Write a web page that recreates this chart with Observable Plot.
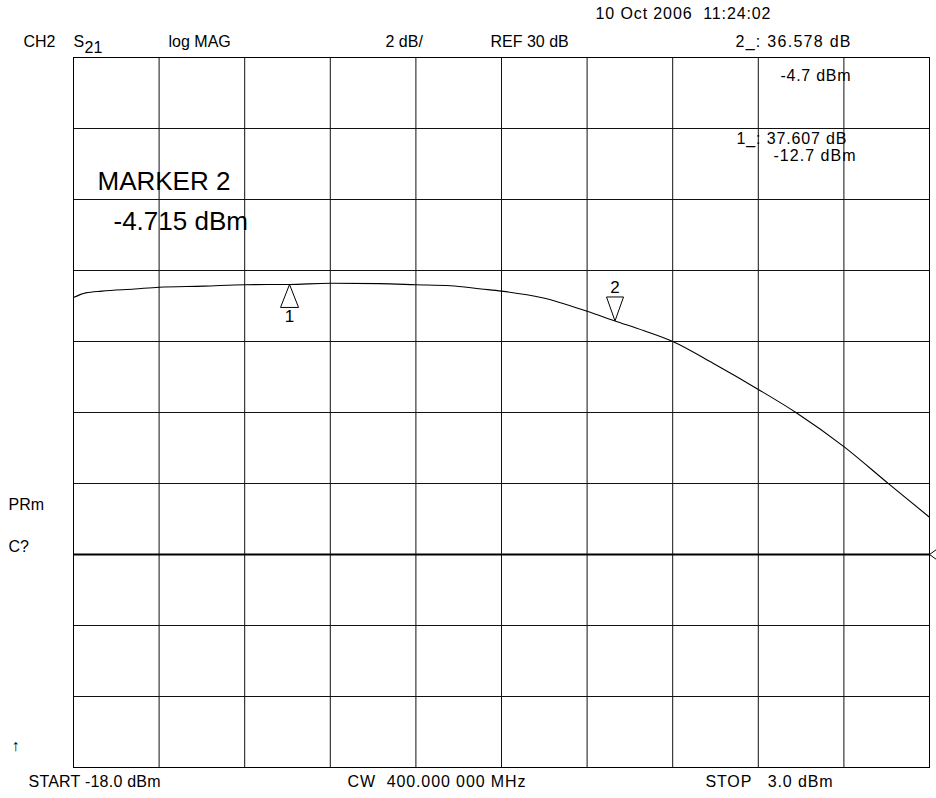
<!DOCTYPE html>
<html>
<head>
<meta charset="utf-8">
<script src="https://cdn.jsdelivr.net/npm/d3@7"></script>
<script src="https://cdn.jsdelivr.net/npm/@observablehq/plot@0.6"></script>
<style>
  html, body { margin: 0; padding: 0; background: #fff; }
  #chart svg { display: block; }
</style>
</head>
<body>
<div id="chart"></div>
<script>
// Sweep (power, dBm) and measured S21 log magnitude (dB)
const powerDbm = [-18.0, -17.7, -17.3, -16.5, -15.9, -14.8, -13.8, -12.7, -11.7, -10.5, -9.6, -8.75, -8.0, -7.5, -6.5, -5.4, -4.715, -4.0, -3.3, -2.3, -1.2, -0.25, 0.9, 2.0, 3.0];
const s21Db    = [37.24, 37.37, 37.42, 37.48, 37.53, 37.56, 37.60, 37.607, 37.64, 37.63, 37.60, 37.57, 37.48, 37.42, 37.23, 36.85, 36.578, 36.30, 36.00, 35.38, 34.65, 33.98, 33.04, 31.99, 31.05];

// Grid divisions
const xTicks = [-18, -15.9, -13.8, -11.7, -9.6, -7.5, -5.4, -3.3, -1.2, 0.9, 3];
const yTicks = [24, 26, 28, 30, 32, 34, 36, 38, 40, 42, 44];
const refLevel = [30];

// Markers
const marker1 = [{x: -12.7, y: 37.607, label: "1"}];
const marker2 = [{x: -4.715, y: 36.578, label: "2"}];

const trace = powerDbm.map((p, i) => ({p, v: s21Db[i]}));

const triUp = {draw(ctx) { ctx.moveTo(0, 0); ctx.lineTo(-9, 23); ctx.lineTo(9, 23); ctx.closePath(); }};
const triDown = {draw(ctx) { ctx.moveTo(0, 0); ctx.lineTo(-8.5, -24); ctx.lineTo(8.5, -24); ctx.closePath(); }};
const refArrow = {draw(ctx) { ctx.moveTo(7, -5); ctx.lineTo(0, 0); ctx.lineTo(7, 5); }};

const F = 16;
const widths = new Map();
function label(text, X, B, size = F, w = null) {
  // X: left edge, B: baseline, relative to the frame's top-left (73, 57)
  if (w) widths.set(text, w);
  return Plot.text([text], {frameAnchor: "top-left", text: d => d, dx: X - 73, dy: B - 57,
    textAnchor: "start", lineAnchor: "bottom", fontSize: size, fill: "#000"});
}

const chart = Plot.plot({
  width: 936,
  height: 798,
  marginLeft: 73,
  marginRight: 7,
  marginTop: 57,
  marginBottom: 31,
  x: {domain: [-18, 3], axis: null},
  y: {domain: [24, 44], axis: null},
  style: {fontFamily: "'Liberation Sans', Arial, sans-serif", background: "#fff", overflow: "visible"},
  marks: [
    Plot.ruleX(xTicks, {stroke: "#111", strokeWidth: 1}),
    Plot.ruleY(yTicks, {stroke: "#111", strokeWidth: 1}),
    Plot.ruleY(refLevel, {stroke: "#000", strokeWidth: 2}),
    Plot.frame({stroke: "#000", strokeWidth: 1}),
    Plot.line(trace, {x: "p", y: "v", stroke: "#000", strokeWidth: 1.1, curve: "monotone-x"}),
    Plot.dot(marker1, {x: "x", y: "y", symbol: triUp, fill: "#fff", stroke: "#000", strokeWidth: 1}),
    Plot.dot(marker2, {x: "x", y: "y", symbol: triDown, fill: "#fff", stroke: "#000", strokeWidth: 1}),
    Plot.text(marker1, {x: "x", y: "y", text: "label", dy: 38, lineAnchor: "bottom", fontSize: 17, fill: "#000"}),
    Plot.text(marker2, {x: "x", y: "y", text: "label", dy: -28, lineAnchor: "bottom", fontSize: 17, fill: "#000"}),
    Plot.dot([{x: 3, y: refLevel[0]}], {x: "x", y: "y", symbol: refArrow, fill: "none", stroke: "#000", strokeWidth: 1}),

    label("10 Oct 2006  11:24:02", 595, 18, F, 175),
    label("CH2", 23, 46),
    label("S", 73, 46),
    label("21", 84, 52),
    label("log MAG", 168, 46),
    label("2 dB/", 385, 46),
    label("REF 30 dB", 490, 46),
    label("2_: 36.578 dB", 735, 46, F, 115),
    label("-4.7 dBm", 780, 80, F, 70),
    label("1_: 37.607 dB", 736, 143, F, 110),
    label("-12.7 dBm", 773, 160, F, 82),
    label("MARKER 2", 97, 189, 26),
    label("-4.715 dBm", 113, 229, 26),
    label("PRm", 8, 509),
    label("C?", 8, 551),
    label("\u2191", 11, 750),
    label("START -18.0 dBm", 28, 786, F, 132),
    label("CW  400.000 000 MHz", 347, 786, F, 178),
    label("STOP   3.0 dBm", 705, 786, F, 127)
  ]
});
// stretch header/footer texts to the widths they have on the instrument screen
d3.select(chart).selectAll("text").each(function() {
  const w = widths.get(this.textContent);
  if (w) { this.setAttribute("textLength", w); this.setAttribute("lengthAdjust", "spacing"); }
});
document.getElementById("chart").append(chart);
</script>
</body>
</html>
